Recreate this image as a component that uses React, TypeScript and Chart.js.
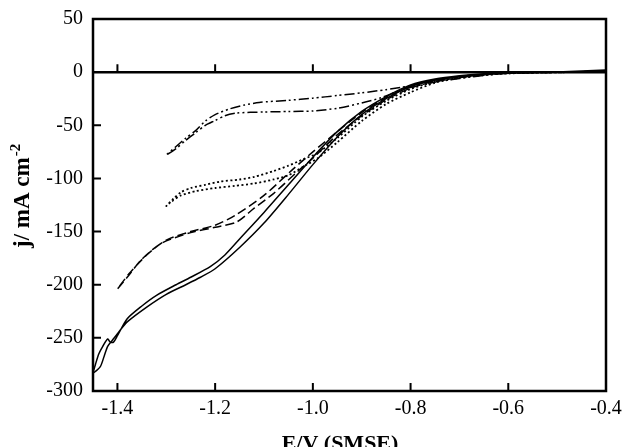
import React, { useEffect, useRef } from "react";
import { Chart, registerables } from "chart.js";

Chart.register(...registerables);

const xTickValues = [-1.4, -1.2, -1.0, -0.8, -0.6, -0.4];
const yTickValues = [50, 0, -50, -100, -150, -200, -250, -300];

const xTitle = "E/V (SMSE)";
const yTitle = "j/ mA cm";
const yTitleSup = "-2";

// solid loop
const solidE = [-0.40, -0.50, -0.60, -0.65, -0.70, -0.75, -0.80, -0.85, -0.90, -0.95, -1.00, -1.05, -1.10, -1.15, -1.20, -1.23, -1.26, -1.30, -1.34, -1.38, -1.40, -1.41, -1.42, -1.427, -1.435, -1.45,
  -1.445, -1.438, -1.43, -1.42, -1.415, -1.408, -1.40, -1.38, -1.35, -1.32, -1.28, -1.25, -1.21, -1.18, -1.15, -1.10, -1.05, -1.00, -0.95, -0.90, -0.85, -0.80, -0.75, -0.70, -0.65, -0.60, -0.50, -0.40];
const solidJ = [1.5, 0, -0.8, -2.0, -4.2, -7.5, -13.5, -25, -40, -61, -87, -115, -142, -165, -185, -193, -200, -209, -221, -235, -246, -252, -258, -267, -277, -283,
  -275, -265, -258, -251, -254, -254, -248, -232, -220, -210, -200, -193, -183, -172, -157, -132, -106, -80, -56, -37, -23, -12, -6.5, -3.5, -1.6, -0.5, 0.2, 2.0];

// dashed loop
const dashedE = [-0.40, -0.50, -0.60, -0.65, -0.70, -0.75, -0.80, -0.85, -0.90, -0.95, -1.00, -1.04, -1.10, -1.16, -1.20, -1.25, -1.30, -1.34, -1.375, -1.40,
  -1.38, -1.35, -1.31, -1.25, -1.20, -1.156, -1.12, -1.08, -1.03, -1.00, -0.95, -0.90, -0.85, -0.80, -0.75, -0.70, -0.65, -0.60, -0.50, -0.40];
const dashedJ = [1.0, 0, -0.6, -1.9, -4, -7.5, -13, -24, -38, -56, -75, -91, -116, -135, -144, -150, -158, -172, -189, -204,
  -193, -176, -161, -151, -146, -141, -128, -114, -93, -81, -59, -41, -26, -15, -8, -4.4, -2.1, -0.7, 0, 0.8];

// dotted loop
const dottedE = [-0.40, -0.50, -0.60, -0.65, -0.70, -0.75, -0.80, -0.85, -0.90, -0.95, -0.99, -1.02, -1.05, -1.08, -1.12, -1.15, -1.19, -1.22, -1.25, -1.27, -1.285, -1.30,
  -1.29, -1.27, -1.24, -1.20, -1.16, -1.12, -1.08, -1.05, -1.02, -0.99, -0.95, -0.90, -0.85, -0.80, -0.75, -0.70, -0.65, -0.60, -0.50, -0.40];
const dottedJ = [0.5, 0, -1, -2.5, -5, -9, -16, -27, -42, -62, -76, -82, -88, -93, -98.5, -101, -103, -106, -109, -113, -119, -126,
  -122, -116, -112, -109, -107, -104.7, -101, -97, -89, -81, -66, -46, -30, -19, -10, -5.5, -2.8, -1.2, -0.2, 0.3];

// dash-dot-dot loop
const dddE = [-0.40, -0.50, -0.60, -0.65, -0.70, -0.74, -0.78, -0.82, -0.85, -0.90, -0.95, -1.00, -1.05, -1.11, -1.14, -1.17, -1.20, -1.22, -1.24, -1.26, -1.28, -1.30,
  -1.28, -1.26, -1.24, -1.22, -1.20, -1.18, -1.156, -1.10, -1.05, -1.00, -0.95, -0.90, -0.86, -0.82, -0.78, -0.74, -0.70, -0.65, -0.60, -0.50, -0.40];
const dddJ = [0.5, 0, -1, -2.5, -5, -8, -11, -14.4, -16.5, -19.5, -22, -24.5, -26.5, -28.5, -31, -34.5, -40, -46, -55, -62, -70, -78,
  -72, -64, -57, -50, -45.5, -41, -38.5, -37.5, -37, -36.5, -34, -29, -24, -17, -12, -8.5, -6, -3, -1.2, -0.3, 0.3];

const toPts = (xs: number[], ys: number[]) => xs.map((x, i) => ({ x, y: ys[i] }));

const framePlugin = {
  id: "frame",
  afterDatasetsDraw(chart: any) {
    const { ctx, chartArea: a, scales } = chart;
    const xs = scales.x;
    const ys = scales.y;
    ctx.save();
    ctx.strokeStyle = "#000";
    ctx.lineWidth = 2.5;
    ctx.strokeRect(a.left, a.top, a.right - a.left, a.bottom - a.top);
    const y0 = ys.getPixelForValue(0);
    ctx.beginPath();
    ctx.moveTo(a.left, y0);
    ctx.lineTo(a.right, y0);
    ctx.stroke();
    ctx.lineWidth = 2;
    ctx.beginPath();
    xTickValues.forEach((v) => {
      const px = xs.getPixelForValue(v);
      if (px >= a.right - 1) return;
      ctx.moveTo(px, y0);
      ctx.lineTo(px, y0 - 8);
      ctx.moveTo(px, a.bottom);
      ctx.lineTo(px, a.bottom - 8);
    });
    yTickValues.forEach((v) => {
      if (v === 50 || v === -300 || v === 0) return;
      const py = ys.getPixelForValue(v);
      ctx.moveTo(a.left, py);
      ctx.lineTo(a.left + 8, py);
    });
    ctx.stroke();

    ctx.fillStyle = "#000";
    ctx.textBaseline = "alphabetic";
    ctx.textAlign = "center";
    ctx.font = "bold 22px 'Liberation Serif'";
    ctx.fillText(xTitle, 340, 449.5);

    ctx.translate(28.5, 248);
    ctx.rotate(-Math.PI / 2);
    ctx.textAlign = "left";
    ctx.font = "bold 23px 'Liberation Serif'";
    ctx.fillText(yTitle, 0, 0);
    const w = ctx.measureText(yTitle).width;
    ctx.font = "bold 15px 'Liberation Serif'";
    ctx.fillText(yTitleSup, w + 1, -9);
    ctx.restore();
  },
};

export default function App() {
  const ref = useRef<HTMLCanvasElement | null>(null);
  useEffect(() => {
    document.body.style.margin = "0";
    document.body.style.overflow = "hidden";
    const common = { borderColor: "#000", borderWidth: 1.5, pointRadius: 0, showLine: true, tension: 0.25, fill: false };
    const chart = new Chart(ref.current as HTMLCanvasElement, {
      type: "scatter",
      data: {
        datasets: [
          { ...common, data: toPts(solidE, solidJ) },
          { ...common, data: toPts(dashedE, dashedJ), borderDash: [9, 4] },
          { ...common, data: toPts(dottedE, dottedJ), borderDash: [2, 2.5], borderWidth: 1.8 },
          { ...common, data: toPts(dddE, dddJ), borderDash: [10, 3, 2, 3, 2, 3] },
        ],
      },
      options: {
        responsive: false,
        animation: false,
        layout: { padding: { left: 0, top: 19, right: 18, bottom: 0 } },
        plugins: { legend: { display: false }, tooltip: { enabled: false } },
        scales: {
          x: {
            type: "linear",
            min: -1.45,
            max: -0.4,
            grid: { display: false, drawTicks: false },
            border: { display: false },
            afterBuildTicks: (s: any) => { s.ticks = xTickValues.map((v) => ({ value: v })); },
            afterFit: (s: any) => { s.height = 56; s.paddingLeft = 0; s.paddingRight = 0; },
            ticks: {
              color: "#000",
              padding: 6,
              font: { family: "'Liberation Serif'", size: 20 },
              maxRotation: 0,
              callback: (v: any) => Number(v).toFixed(1),
            },
          },
          y: {
            type: "linear",
            min: -300,
            max: 50,
            grid: { display: false, drawTicks: false },
            border: { display: false },
            afterBuildTicks: (s: any) => { s.ticks = yTickValues.map((v) => ({ value: v })); },
            afterFit: (s: any) => { s.width = 93; s.paddingTop = 0; s.paddingBottom = 0; },
            ticks: {
              color: "#000",
              padding: 10,
              font: { family: "'Liberation Serif'", size: 20 },
              callback: (v: any) => String(v),
            },
          },
        },
      },
      plugins: [framePlugin],
    });
    return () => chart.destroy();
  }, []);
  return (
    <div style={{ width: 624, height: 447, overflow: "hidden", background: "#fff" }}>
      <canvas ref={ref} width={624} height={447} style={{ display: "block" }} />
    </div>
  );
}
